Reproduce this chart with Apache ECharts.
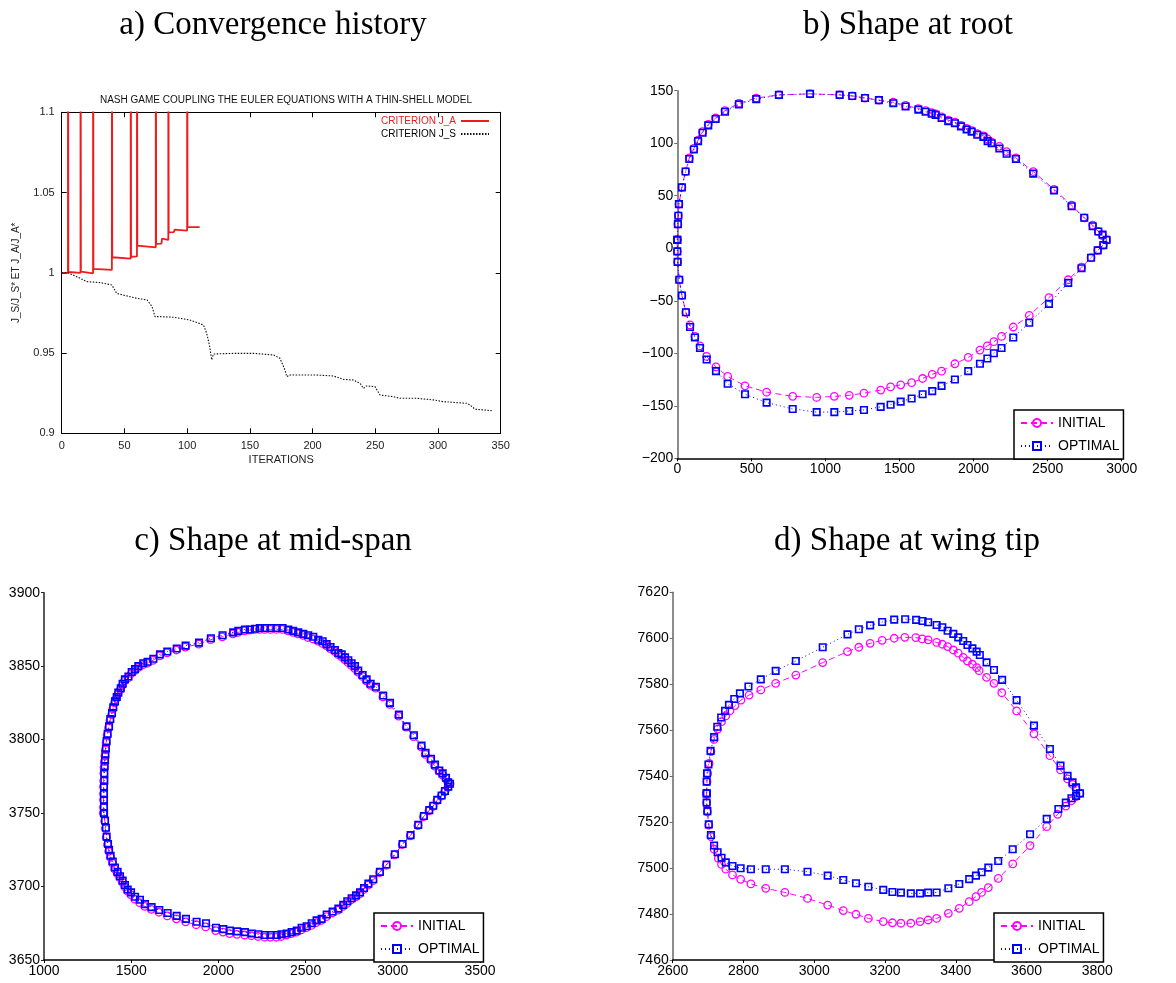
<!DOCTYPE html>
<html><head><meta charset="utf-8">
<script src="https://cdn.jsdelivr.net/npm/echarts@6/dist/echarts.min.js"></script>
<style>html,body{margin:0;padding:0;background:#fff}#c{width:1176px;height:983px}</style>
</head><body><div id="c"></div>
<script>
// ---------- DATA ----------
// a) Convergence history
const itersTicks = [0, 50, 100, 150, 200, 250, 300, 350];
const critJA = [[0,1.0],[5,1.0],[5,1.3],[5.3,1.0005],[15,1.0],[15,1.3],[15.3,1.0007],[25,0.9997],[25,1.3],[25.3,1.0024],[40,1.0018],[40,1.3],[40.3,1.0097],[55,1.0088],[55,1.3],[55.3,1.010],[60,1.0102],[60,1.3],[60.3,1.0169],[75,1.0159],[75,1.3],[75.3,1.018],[79.5,1.0182],[80,1.0213],[85,1.0205],[85,1.3],[85.3,1.0252],[89.5,1.0254],[90,1.0269],[100,1.0263],[100,1.3],[100.3,1.0286],[110,1.0284]];
const critJS = [[0,1.0],[5,1.0],[12,0.9976],[20,0.9945],[30.6,0.9939],[40,0.9924],[43.8,0.9872],[46.5,0.9866],[60,0.9841],[68,0.9831],[72,0.979],[74.4,0.9727],[78.4,0.9727],[89,0.9723],[102,0.9706],[113,0.9675],[115.6,0.9623],[118,0.954],[119.6,0.9457],[121,0.9494],[137,0.9498],[153,0.9498],[169,0.9488],[174,0.9467],[178,0.9395],[179.4,0.9353],[182,0.9363],[203,0.9363],[216.6,0.9357],[224.6,0.9336],[232.6,0.9332],[237.9,0.9311],[240.5,0.928],[243,0.9295],[249.8,0.9291],[253.8,0.9239],[264.4,0.9228],[269.7,0.9218],[283,0.9218],[296.3,0.9208],[304.3,0.9197],[322.9,0.9187],[325.5,0.9177],[329.5,0.915],[342.8,0.9141]];

// b) Shape at root
const rootInitial = [[0,8],[4,23],[7,31],[11,42],[31,58],[56,73],[81,86],[112,95],[140,103],[171,111],[209,118],[259,124],[322,131],[416,138],[533,143],[686,146],[896,147],[1096,146],[1181,145],[1267,143],[1361,141],[1458,139],[1541,136],[1627,133],[1676,131],[1717,129],[1744,128],[1784,125],[1829,122],[1874,120],[1915,117],[1953,114],[1987,112],[2025,109],[2066,107],[2095,104],[2122,101],[2174,97],[2223,92],[2286,86],[2403,73],[2543,56],[2662,41],[2747,29],[2804,22],[2842,16],[2871,12],[2898,8],
  [2876,3],[2838,-2],[2793,-9],[2729,-18],[2639,-30],[2509,-47],[2376,-64],[2268,-75],[2189,-84],[2137,-89],[2093,-93],[2043,-97],[1964,-104],[1874,-110],[1784,-117],[1721,-120],[1656,-124],[1582,-128],[1508,-130],[1440,-132],[1373,-135],[1260,-138],[1161,-140],[1060,-141],[941,-142],[779,-141],[603,-137],[457,-131],[340,-122],[261,-113],[198,-103],[153,-93],[119,-84],[86,-73],[58,-61],[31,-45],[13,-30],[2,-13],[0,-3],[0,8]];
const rootOptimal = [[0,8],[4,23],[7,31],[11,42],[31,58],[56,73],[81,85],[112,94],[140,102],[171,110],[209,117],[259,123],[322,130],[416,137],[533,142],[686,146],[896,147],[1096,146],[1181,145],[1267,143],[1361,141],[1458,138],[1541,135],[1627,132],[1676,130],[1717,128],[1744,127],[1784,124],[1829,121],[1874,119],[1915,116],[1953,113],[1987,111],[2025,108],[2066,106],[2095,102],[2122,100],[2174,95],[2223,90],[2286,85],[2403,71],[2543,55],[2662,40],[2747,29],[2804,21],[2842,16],[2871,13],[2898,8],
  [2876,3],[2838,-2],[2793,-9],[2729,-19],[2639,-33],[2509,-53],[2376,-71],[2268,-85],[2189,-95],[2137,-100],[2093,-105],[2043,-110],[1964,-117],[1874,-125],[1784,-131],[1721,-136],[1656,-139],[1582,-143],[1508,-146],[1440,-149],[1373,-151],[1260,-154],[1161,-155],[1060,-156],[941,-156],[779,-153],[603,-147],[457,-139],[340,-129],[261,-117],[198,-106],[153,-95],[119,-85],[86,-75],[58,-61],[31,-45],[13,-30],[2,-13],[0,-3],[0,8]];

// c) Shape at mid-span
const midInitial = [[1341,3750],[1341,3754],[1341,3759],[1341,3763],[1341,3768],[1342,3772],[1343,3777],[1344,3781],[1346,3785],[1349,3789],[1352,3793],[1356,3798],[1362,3803],[1370,3808],[1378,3813],[1388,3817],[1395,3821],[1405,3825],[1415,3828],[1424,3831],[1438,3834],[1449,3837],[1462,3840],[1482,3842],[1501,3845],[1520,3847],[1539,3849],[1567,3851],[1592,3852],[1625,3854],[1663,3857],[1705,3859],[1759,3861],[1810,3863],[1887,3865],[1955,3868],[2022,3870],[2083,3872],[2112,3873],[2150,3874],[2179,3874.5],[2208,3875],[2236,3875],[2265,3875],[2298,3875],[2332,3875],[2366,3875],[2399,3874],[2427,3873],[2456,3872],[2485,3871],[2513,3869.5],[2542,3868.5],[2571,3867],[2596,3865.5],[2619,3864],[2641,3862],[2666,3860],[2686,3858],[2705,3856.5],[2724,3854.5],[2743,3852.5],[2762,3850.5],[2781,3848.5],[2800,3846],[2825,3843],[2848,3840],[2871,3837],[2901,3835],[2943,3829],[2982,3824],[3033,3816],[3077,3808.5],[3119,3802],[3163,3795],[3186,3790],[3217,3786],[3240,3782],[3265,3778.5],[3284,3776],[3303,3773.5],[3316,3771],[3328,3770],
  [3316,3767.5],[3297,3764.5],[3278,3761.5],[3253,3758.5],[3230,3754.5],[3207,3751.5],[3176,3747.5],[3144,3741.5],[3100,3734.5],[3054,3728.5],[3010,3721.5],[2962,3714.5],[2924,3709.5],[2886,3704],[2858,3701],[2833,3698],[2810,3695],[2787,3693],[2762,3691],[2737,3688.5],[2714,3686.5],[2686,3684],[2653,3682],[2619,3679.5],[2590,3677],[2561,3675.5],[2533,3673.5],[2504,3672],[2475,3670.5],[2447,3669],[2418,3668],[2389,3667],[2360,3666],[2332,3665.5],[2298,3665.5],[2265,3665.5],[2227,3666],[2189,3666.5],[2150,3667],[2106,3667.5],[2064,3668],[2026,3669],[1984,3670],[1927,3672.5],[1873,3674],[1812,3676],[1759,3678],[1707,3680],[1659,3682.5],[1615,3684.5],[1577,3686.5],[1548,3689],[1520,3691.5],[1497,3694.5],[1478,3697],[1462,3700],[1449,3703],[1434,3706],[1420,3709],[1405,3712],[1392,3716],[1380,3720],[1371,3724],[1364,3728.5],[1357,3733.5],[1352,3739.5],[1348,3744.5],[1341,3750]];
const midOptimal = [[1344,3750],[1344,3754],[1344,3759],[1344,3763],[1344,3768],[1346,3772],[1346,3777],[1348,3782],[1350,3786],[1352,3790],[1355,3794],[1359,3799],[1365,3804],[1373,3809],[1380,3814],[1390,3818],[1397,3822],[1407,3826],[1417,3829],[1426,3832],[1440,3835],[1451,3838],[1464,3841],[1484,3843],[1503,3846],[1522,3848],[1541,3850],[1569,3852],[1594,3853],[1627,3855],[1665,3858],[1707,3860],[1761,3862],[1812,3864],[1889,3866],[1957,3869],[2024,3871],[2085,3873],[2114,3874],[2152,3875],[2181,3875],[2210,3875.5],[2238,3876],[2267,3876],[2300,3876],[2334,3876],[2368,3876],[2401,3875],[2429,3874],[2458,3873],[2487,3872],[2515,3871],[2544,3870],[2573,3868],[2598,3867],[2621,3865],[2643,3863],[2668,3861],[2688,3859],[2707,3858],[2726,3856],[2745,3854],[2764,3852],[2783,3850],[2802,3847],[2827,3844],[2850,3841],[2873,3838],[2903,3836],[2945,3830],[2984,3825],[3035,3817],[3079,3809],[3121,3803],[3165,3796],[3188,3791],[3219,3787],[3242,3783],[3267,3779],[3286,3777],[3305,3774],[3318,3771],[3328,3770],
  [3318,3768],[3299,3765],[3280,3762],[3255,3759],[3232,3755],[3209,3752],[3178,3748],[3146,3742],[3102,3735],[3056,3729],[3012,3722],[2964,3715],[2926,3710],[2888,3705],[2860,3702],[2835,3699],[2812,3696],[2789,3694],[2764,3692],[2739,3690],[2716,3687.5],[2688,3685],[2655,3683],[2621,3681],[2592,3678],[2563,3677],[2535,3675],[2506,3673],[2477,3672],[2449,3670],[2420,3669],[2391,3668],[2362,3667.5],[2334,3667],[2300,3667],[2267,3667],[2229,3667.5],[2191,3668],[2152,3669],[2108,3669.5],[2066,3670],[2028,3671],[1986,3672],[1929,3675],[1875,3676],[1814,3678],[1761,3680],[1709,3682],[1661,3684],[1617,3686],[1579,3688],[1550,3691],[1522,3693],[1499,3696],[1480,3698],[1464,3701],[1451,3704],[1436,3707],[1422,3710],[1407,3713],[1394,3717],[1382,3721],[1373,3725],[1367,3729],[1359,3734],[1355,3740],[1350,3745],[1344,3750]];

// d) Shape at wing tip
const tipInitial = [[2696,7532.5],[2697,7537.6],[2699,7541.2],[2703,7545.6],[2708,7550.7],[2717,7556],[2727,7560.5],[2738,7563.7],[2750,7566.2],[2762,7568.5],[2776,7570.7],[2793,7573.1],[2816,7575.3],[2849,7577.5],[2891,7580.4],[2948,7584],[3024,7589.4],[3094,7594.2],[3126,7596.1],[3158,7597.8],[3192,7599.1],[3226,7600],[3256,7600.4],[3287,7600.3],[3305,7599.7],[3322,7599.3],[3346,7598.2],[3362,7597.4],[3377,7596.4],[3393,7594.9],[3407,7593.5],[3421,7591.7],[3433,7590.1],[3447,7588.7],[3459,7587.2],[3466,7585.9],[3487,7583],[3508,7580.4],[3530,7576.3],[3572,7568.4],[3621,7558.4],[3666,7548.9],[3696,7542.7],[3716,7538.8],[3730,7536.4],[3740,7534.4],[3751,7532.5],
  [3740,7531.1],[3727,7529.3],[3711,7527],[3688,7523.4],[3657,7518],[3610,7509.8],[3561,7501.8],[3520,7495.5],[3492,7491.5],[3473,7489.4],[3457,7487.6],[3438,7485.4],[3410,7482.5],[3379,7480.3],[3346,7478.1],[3322,7477.4],[3299,7476.7],[3273,7476],[3245,7476],[3221,7476.2],[3195,7476.7],[3153,7478.1],[3118,7479.9],[3082,7481.5],[3038,7483.9],[2981,7486.8],[2917,7489.4],[2863,7491.2],[2821,7493.1],[2792,7495.1],[2769,7497],[2750,7499.5],[2738,7501.6],[2729,7504.2],[2717,7508.2],[2708,7513.7],[2702,7518.7],[2698,7524.5],[2696,7528.5],[2696,7532.5]];
const tipOptimal = [[2696,7532.5],[2696,7537.6],[2697,7541.2],[2701,7545.1],[2707,7551],[2717,7557],[2726,7561.5],[2737,7565.5],[2748,7568.4],[2759,7571],[2774,7573.6],[2790,7576],[2814,7579],[2849,7582.1],[2891,7585.8],[2948,7590.1],[3024,7596.1],[3094,7601.7],[3126,7603.9],[3158,7605.6],[3192,7607.1],[3226,7608.1],[3257,7608.3],[3288,7608],[3306,7607.5],[3322,7607],[3346,7605.8],[3362,7604.8],[3377,7603.3],[3393,7601.9],[3407,7600.4],[3421,7598.8],[3433,7597.1],[3447,7595.6],[3459,7594.2],[3468,7592.7],[3487,7589.5],[3508,7586.2],[3531,7581.9],[3572,7573.1],[3621,7562],[3666,7551.8],[3696,7544.6],[3716,7540.1],[3730,7537.3],[3740,7535.1],[3751,7532.5],
  [3740,7531.4],[3727,7530.4],[3711,7528.5],[3690,7525.7],[3657,7521.4],[3610,7514.7],[3561,7508.2],[3520,7503.1],[3492,7500.2],[3473,7498.2],[3457,7496.7],[3438,7495.2],[3410,7493.1],[3379,7491.2],[3346,7489.4],[3322,7489.3],[3299,7489],[3273,7489],[3245,7489.3],[3221,7489.6],[3195,7490.5],[3153,7491.9],[3118,7493.4],[3082,7494.8],[3038,7496.7],[2981,7498.4],[2917,7499.5],[2863,7499.5],[2821,7499.5],[2792,7499.9],[2769,7500.9],[2750,7502.5],[2738,7504.5],[2727,7506.9],[2717,7509.8],[2708,7514.4],[2702,7519],[2698,7524.8],[2696,7528.5],[2696,7532.5]];

// ---------- CHART ----------
const chart = echarts.init(document.getElementById('c'), null, {renderer: 'canvas'});
const SANS = 'Liberation Sans';
const SERIF = 'Liberation Serif';
const minus = v => String(v).replace('-', '\u2212');

function mAxis(grid, pos, min, max, interval, yAxisLineColor) {
  return {
    type: 'value', gridIndex: grid, position: pos, min, max, interval,
    splitLine: {show: false},
    axisLine: {show: true, onZero: false, lineStyle: {color: yAxisLineColor, width: 1.5}},
    axisTick: {show: true, inside: false, length: 3, lineStyle: {color: yAxisLineColor}},
    axisLabel: {show: true, color: '#000', fontFamily: SANS, fontSize: 14, margin: 4, formatter: minus, showMinLabel: true, showMaxLabel: true}
  };
}
function aAxis(pos, min, max, interval, showLabel, extra) {
  return Object.assign({
    type: 'value', gridIndex: 0, position: pos, min, max, interval,
    splitLine: {show: false},
    axisLine: {show: true, onZero: false, lineStyle: {color: '#000', width: 1}},
    axisTick: {show: true, inside: true, length: 5, lineStyle: {color: '#000'}},
    axisLabel: {show: showLabel, color: '#222', fontFamily: SANS, fontSize: 11, margin: 7, showMinLabel: true, showMaxLabel: true}
  }, extra || {});
}

const initStyle = (xi, data) => ({
  name: 'INITIAL', type: 'line', xAxisIndex: xi, yAxisIndex: xi, data,
  symbol: 'circle', symbolSize: 7.5, showSymbol: true, showAllSymbol: true,
  itemStyle: {color: 'rgba(255,0,255,0)', borderColor: '#ff00ff', borderWidth: 1.3},
  lineStyle: {color: '#ff00ff', width: 1, type: [6, 4]},
  clip: true, z: 2
});
const optStyle = (xi, data) => ({
  name: 'OPTIMAL', type: 'line', xAxisIndex: xi, yAxisIndex: xi, data,
  symbol: 'rect', symbolSize: 6.5, showSymbol: true, showAllSymbol: true,
  itemStyle: {color: 'rgba(0,0,255,0)', borderColor: '#0000ff', borderWidth: 1.6},
  lineStyle: {color: '#0000ff', width: 1, type: [1, 3]},
  clip: true, z: 3
});

function shapeLegend(left, top) {
  return {
    data: ['INITIAL', 'OPTIMAL'], orient: 'vertical', left, top,
    backgroundColor: '#fff', borderColor: '#000', borderWidth: 1.5, borderRadius: 0,
    padding: [6, 4, 6, 6], itemGap: 9, itemWidth: 32, itemHeight: 10,
    textStyle: {fontFamily: SANS, fontSize: 14, color: '#000'},
    selectedMode: false
  };
}

const titleStyle = {fontFamily: SERIF, fontSize: 33, fontWeight: 'normal', color: '#000'};

chart.setOption({
  animation: false,
  backgroundColor: '#fff',
  title: [
    {text: 'a) Convergence history', left: 268, top: 4, textAlign: 'center', textStyle: titleStyle},
    {text: 'b) Shape at root', left: 903, top: 4, textAlign: 'center', textStyle: titleStyle},
    {text: 'c) Shape at mid-span', left: 268, top: 520, textAlign: 'center', textStyle: titleStyle},
    {text: 'd) Shape at wing tip', left: 902, top: 520, textAlign: 'center', textStyle: titleStyle},
    {text: 'NASH GAME COUPLING THE EULER EQUATIONS WITH A THIN-SHELL MODEL', left: 281, top: 90, textAlign: 'center',
     textStyle: {fontFamily: SANS, fontSize: 10, fontWeight: 'normal', color: '#111'}}
  ],
  grid: [
    {left: 61.7, top: 112.3, width: 439, height: 321, outerBoundsMode: 'none', containLabel: false},
    {left: 677.3, top: 90.7, width: 444.4, height: 367.6, outerBoundsMode: 'none', containLabel: false},
    {left: 44, top: 592.7, width: 436, height: 367.3, outerBoundsMode: 'none', containLabel: false},
    {left: 672.7, top: 592.3, width: 424.6, height: 367.7, outerBoundsMode: 'none', containLabel: false}
  ],
  xAxis: [
    aAxis('bottom', itersTicks[0], itersTicks[itersTicks.length - 1], 50, true,
      {name: 'ITERATIONS', nameLocation: 'middle', nameGap: 21, nameTextStyle: {fontFamily: SANS, fontSize: 11, color: '#222'}}),
    mAxis(1, 'bottom', 0, 3000, 500, '#000'),
    mAxis(2, 'bottom', 1000, 3500, 500, '#000'),
    mAxis(3, 'bottom', 2600, 3800, 200, '#000'),
    aAxis('top', 0, 350, 50, false)
  ],
  yAxis: [
    aAxis('left', 0.9, 1.1, 0.05, true,
      {name: 'J_S/J_S* ET J_A/J_A*', nameLocation: 'middle', nameGap: 40, nameRotate: 90,
       nameTextStyle: {fontFamily: SANS, fontSize: 10, color: '#222'}}),
    mAxis(1, 'left', -200, 150, 50, '#666'),
    mAxis(2, 'left', 3650, 3900, 50, '#222'),
    mAxis(3, 'left', 7460, 7620, 20, '#666'),
    aAxis('right', 0.9, 1.1, 0.05, false)
  ],
  legend: [
    {data: [{name: 'CRITERION J_A', textStyle: {color: '#ee1c1c'}, itemStyle: {opacity: 0}},
            {name: 'CRITERION J_S', textStyle: {color: '#000'}, itemStyle: {opacity: 0}}],
     orient: 'vertical', align: 'right', right: 1176 - 490, top: 116, itemWidth: 28, itemHeight: 8, itemGap: 3,
     textStyle: {fontFamily: SANS, fontSize: 10}, selectedMode: false, padding: 0},
    shapeLegend(1014, 410),
    shapeLegend(374, 913),
    shapeLegend(994, 913)
  ],
  series: [
    {name: 'CRITERION J_A', type: 'line', xAxisIndex: 0, yAxisIndex: 0, data: critJA, symbol: 'none',
     lineStyle: {color: '#ee1c1c', width: 1.8}, itemStyle: {color: '#ee1c1c'}, clip: true},
    {name: 'CRITERION J_S', type: 'line', xAxisIndex: 0, yAxisIndex: 0, data: critJS, symbol: 'none',
     lineStyle: {color: '#111', width: 1.1, type: [1.5, 1.5]}, itemStyle: {color: '#111'}, clip: true},
    initStyle(1, rootInitial), optStyle(1, rootOptimal),
    initStyle(2, midInitial), optStyle(2, midOptimal),
    initStyle(3, tipInitial), optStyle(3, tipOptimal)
  ]
});
</script>
</body></html>
